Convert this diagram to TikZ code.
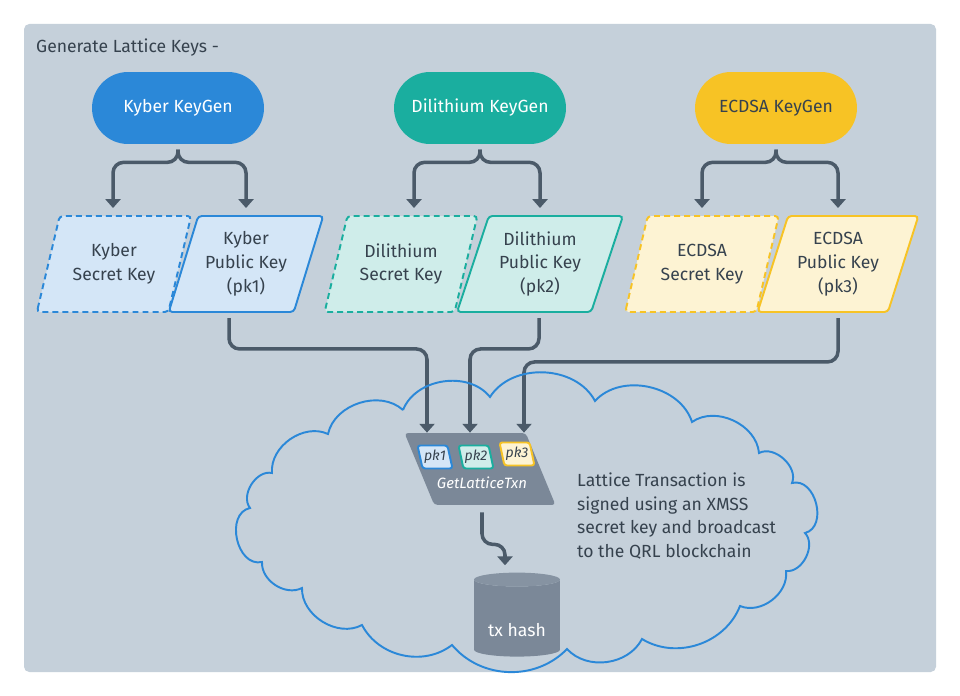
\documentclass[tikz,border=0pt]{standalone}
\usepackage{fontspec}
\setmainfont{Fira Sans}
\usetikzlibrary{calc,shapes.geometric,arrows.meta}
\definecolor{panel}{HTML}{C5D0DA}
\definecolor{kyber}{HTML}{2B88D8}
\definecolor{kyberlight}{HTML}{D4E6F7}
\definecolor{dilith}{HTML}{1AAE9F}
\definecolor{dilithlight}{HTML}{CFEDEA}
\definecolor{ecdsa}{HTML}{F7C325}
\definecolor{ecdsalight}{HTML}{FDF3D3}
\definecolor{slate}{HTML}{4B5A69}
\definecolor{ink}{HTML}{36424E}
\definecolor{steel}{HTML}{7B8898}
\definecolor{steeltop}{HTML}{8693A2}

\tikzset{
	keygen/.style={rectangle, rounded corners=0.72cm, minimum width=3.44cm, minimum height=1.44cm, text=white, font=\fontsize{10}{12}\selectfont},
	keybox/.style={trapezium, trapezium stretches=true, trapezium left angle=71, trapezium right angle=109, minimum width=3.1cm, minimum height=1.92cm, inner xsep=1pt, rounded corners=2pt, line width=1.1pt, text=ink, align=center, font=\fontsize{10}{13.6}\selectfont},
	secret/.style={keybox, dash pattern=on 3.4pt off 2.3pt},
	pkbox/.style={trapezium, trapezium stretches=true, trapezium left angle=108, trapezium right angle=72, minimum width=0.7cm, minimum height=0.46cm, inner sep=0pt, rounded corners=1.5pt, line width=1.1pt, text=ink, font=\fontsize{8}{9}\selectfont\itshape},
	link/.style={draw=slate, line width=2pt, rounded corners=6pt, -{Triangle[width=8.5pt,length=5pt]}},
	cloudline/.style={draw=kyber, line width=1.1pt},
}

\begin{document}
\begin{tikzpicture}[x=0.02cm, y=-0.02cm]
	%%%%% PANEL %%%%%
	
	\fill[white] (0,0) rectangle (960,696);
	\fill[panel, rounded corners=3pt] (24,24) rectangle (936,672);
	\node[anchor=west, text=ink, font=\fontsize{10}{12}\selectfont] (title) at (30,48) {Generate Lattice Keys -};
	
	%%%%% KEYGEN %%%%%
	
	\node[keygen, fill=kyber] (kgen) at (178,108) {Kyber KeyGen};
	\node[keygen, fill=dilith] (dgen) at (480,108) {Dilithium KeyGen};
	\node[keygen, fill=ecdsa, text=ink, minimum width=3.24cm] (egen) at (776,108) {ECDSA KeyGen};
	
	%%%%% KEYS %%%%%
	
	\node[secret, draw=kyber, fill=kyberlight] (ksec) at (114,264) {Kyber\\Secret Key};
	\node[keybox, draw=kyber, fill=kyberlight] (kpub) at (246,264) {Kyber\\Public Key\\(pk1)};
	\node[secret, draw=dilith, fill=dilithlight, minimum width=3.06cm] (dsec) at (401,264) {Dilithium\\Secret Key};
	\node[keybox, draw=dilith, fill=dilithlight, minimum width=3.32cm] (dpub) at (540,264) {Dilithium\\Public Key\\(pk2)};
	\node[secret, draw=ecdsa, fill=ecdsalight, minimum width=3.08cm] (esec) at (702,264) {ECDSA\\Secret Key};
	\node[keybox, draw=ecdsa, fill=ecdsalight, minimum width=3.24cm] (epub) at (838,264) {ECDSA\\Public Key\\(pk3)};
	
	\foreach \g/\s/\p/\o in {kgen/ksec/kpub/-1, dgen/dsec/dpub/13, egen/esec/epub/0}{
		\draw[link, shorten <=3pt, shorten >=4pt] (\g.south) -- ++(0,18) -| ($(\s.north)+(\o,0)$);
		\draw[link, shorten <=3pt, shorten >=4pt] (\g.south) -- ++(0,18) -| (\p.north);
	}
	
	%%%%% TXN %%%%%
	
	\node[trapezium, trapezium stretches=true, trapezium left angle=108, trapezium right angle=72, minimum width=3.02cm, minimum height=1.44cm, rounded corners=2pt, fill=steel] (txn) at (480,469) {};
	\node[pkbox, draw=kyber, fill=kyberlight] (pk1) at (435,457) {pk1};
	\node[pkbox, draw=dilith, fill=dilithlight] (pk2) at (476,457) {pk2};
	\node[pkbox, draw=ecdsa, fill=ecdsalight] (pk3) at (517,454) {pk3};
	\node[text=white, font=\fontsize{8.5}{10}\selectfont\itshape] (txnname) at (482,483) {GetLatticeTxn};
	
	\draw[link, shorten <=3pt] ($(kpub.south)+(-17,0)$) -- ++(0,36) -| ($(txn.north)+(-53,0)$);
	\draw[link, shorten <=3pt] ($(dpub.south)+(-1,0)$) -- ++(0,36) -| ($(txn.north)+(-10,0)$);
	\draw[link, shorten <=3pt] (epub.south) -- ++(0,49) -| ($(txn.north)+(44,0)$);
	
	%%%%% HASH %%%%%
	
	\node[cylinder, shape border rotate=90, aspect=0.2, minimum width=1.72cm, minimum height=1.68cm, cylinder uses custom fill, cylinder body fill=steel, cylinder end fill=steeltop, text=white, font=\fontsize{10}{12}\selectfont] (hash) at (517,620) {\rule{0pt}{19pt}tx hash};
	\draw[link] ($(txn.south)+(2,7)$) -- ++(0,32) -| ($(hash.north)+(-12,-7)$);
	
	\node[anchor=west, align=left, text=ink, font=\fontsize{10}{13.6}\selectfont] (note) at (571,516) {Lattice Transaction is\\signed using an XMSS\\secret key and broadcast\\to the QRL blockchain};
	
	%%%%% CLOUD %%%%%
	
	\draw[cloudline] (403,410) to[bend left=60] (490,397) to[bend left=60] (595,401) to[bend left=60] (692,422)
		to[bend left=60] (759,453) to[bend left=70] (792,483) to[bend left=90, looseness=1.2] (805,533)
		to[bend left=70] (786,571) to[bend left=60] (740,606) to[bend left=50] (642,639)
		to[bend left=55] (567,649) to[bend left=48] (452,645) to[bend left=50] (362,625)
		to[bend left=60] (302,588) to[bend left=60] (262,562) to[bend left=90, looseness=1.2] (250,508)
		to[bend left=70] (272,473) to[bend left=60] (328,434) to[bend left=60] (403,410);
	
\end{tikzpicture}
\end{document}
